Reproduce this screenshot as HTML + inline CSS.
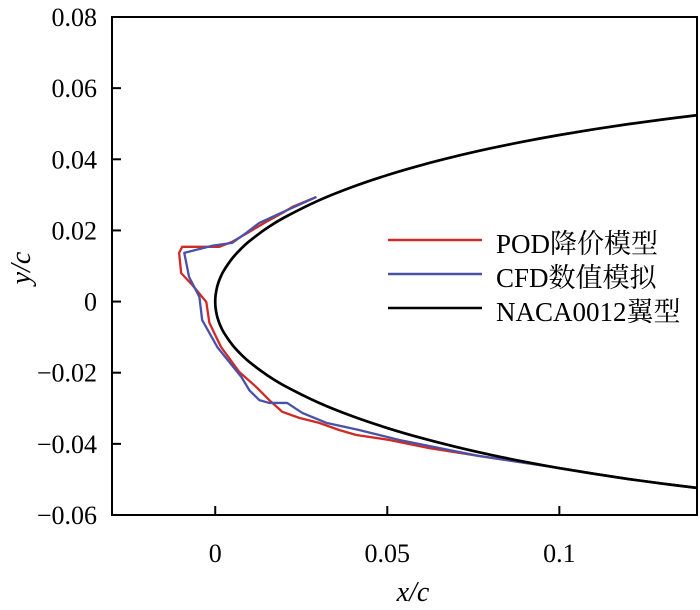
<!DOCTYPE html>
<html><head><meta charset="utf-8"><style>
body{margin:0;background:#fff}
svg{display:block;font-family:"Liberation Serif","Noto Serif CJK SC",serif}
</style></head><body>
<svg id="c" width="700" height="610" viewBox="0 0 700 610"></svg>
<script>
const nacaX=[0,0.0001,0.0005,0.001,0.0015,0.0025,0.005,0.0075,0.01,0.015,0.02,0.03,0.04,0.05,0.06,0.07,0.08,0.09,0.10,0.11,0.12,0.13,0.14];
const nacaY=[0,0.00178,0.00395,0.00556,0.00679,0.00872,0.01221,0.01485,0.01704,0.02064,0.02360,0.02840,0.03228,0.03555,0.03838,0.04086,0.04307,0.04505,0.04683,0.04843,0.04988,0.05119,0.05238];
const podX=[0.0294,0.0224,0.0195,0.0148,0.0099,0.0049,0.0012,-0.0096,-0.0105,-0.0099,-0.0067,-0.0026,-0.0017,0.0017,0.0070,0.0119,0.0157,0.0195,0.0244,0.0302,0.0360,0.0410,0.0506,0.0622,0.0767,0.10,0.12,0.14];
const podY=[0.0294,0.0266,0.0249,0.0224,0.0196,0.0168,0.0154,0.0154,0.0137,0.0080,0.0047,-0.0001,-0.0060,-0.0128,-0.0198,-0.0240,-0.0277,-0.0310,-0.0327,-0.0341,-0.0361,-0.0375,-0.0389,-0.0412,-0.0434,-0.0468,-0.0499,-0.0524];
const cfdX=[0.0294,0.0177,0.0128,0.0090,0.0049,-0.0009,-0.0090,-0.0076,-0.0046,-0.0038,0.0006,0.0076,0.0099,0.0128,0.0157,0.0209,0.0253,0.0323,0.0418,0.0535,0.0767,0.10,0.12,0.14];
const cfdY=[0.0294,0.0243,0.0221,0.0193,0.0165,0.0157,0.0137,0.0069,0.0013,-0.0052,-0.0128,-0.0212,-0.0249,-0.0277,-0.0285,-0.0285,-0.0313,-0.0341,-0.0361,-0.0389,-0.0434,-0.0468,-0.0499,-0.0524];
const xTicks=[0,0.05,0.1];
const xTickLabels=["0","0.05","0.1"];
const yTicks=[0.08,0.06,0.04,0.02,0,-0.02,-0.04,-0.06];
const yTickLabels=["0.08","0.06","0.04","0.02","0","\u22120.02","\u22120.04","\u22120.06"];
const legendLabels=["POD降价模型","CFD数值模拟","NACA0012翼型"];
const legendColors=["#d02a26","#4a52a8","#000"];

const L=112,R=697,T=17,B=515,XMIN=-0.03,XMAX=0.14,YMIN=-0.06,YMAX=0.08;
const sx=v=>L+(v-XMIN)/(XMAX-XMIN)*(R-L);
const sy=v=>B-(v-YMIN)/(YMAX-YMIN)*(B-T);
const svg=document.getElementById('c');
const NS='http://www.w3.org/2000/svg';
function mk(t,a,p){const e=document.createElementNS(NS,t);for(const k in a)e.setAttribute(k,a[k]);(p||svg).appendChild(e);return e;}

const clip=mk('clipPath',{id:'pc'});mk('rect',{x:L,y:T,width:R-L,height:B-T},clip);
const g=mk('g',{'clip-path':'url(#pc)'});
function smooth(P){
  let d='M'+P[0][0]+','+P[0][1];
  for(let i=0;i<P.length-1;i++){
    const p0=P[i-1]||P[i],p1=P[i],p2=P[i+1],p3=P[i+2]||p2;
    d+=' C'+(p1[0]+(p2[0]-p0[0])/6)+','+(p1[1]+(p2[1]-p0[1])/6)+' '+(p2[0]-(p3[0]-p1[0])/6)+','+(p2[1]-(p3[1]-p1[1])/6)+' '+p2[0]+','+p2[1];
  }
  return d;
}
let P=[];
for(let i=nacaX.length-1;i>=0;i--)P.push([sx(nacaX[i]),sy(-nacaY[i])]);
for(let i=1;i<nacaX.length;i++)P.push([sx(nacaX[i]),sy(nacaY[i])]);
function series(xs,ys,col,name){
  const p=xs.map((x,i)=>sx(x)+','+sy(ys[i])).join(' ');
  const e=mk('polyline',{points:p,fill:'none',stroke:col,'stroke-width':2.3,'stroke-linejoin':'round'},g);
  
  
}
series(podX,podY,legendColors[0],'pod-series');
series(cfdX,cfdY,legendColors[1],'cfd-series');
const nl=mk('path',{d:smooth(P),fill:'none',stroke:'#000','stroke-width':2.7},g);



const fr=mk('rect',{x:L,y:T,width:R-L,height:B-T,fill:'none',stroke:'#000','stroke-width':2});


xTicks.forEach((v,i)=>{
  mk('line',{x1:sx(v),x2:sx(v),y1:B,y2:B-9,stroke:'#000','stroke-width':2});
  const t=mk('text',{x:sx(v),y:562,'font-size':26,'text-anchor':'middle'});t.textContent=xTickLabels[i];
  
  
});
yTicks.forEach((v,i)=>{
  mk('line',{x1:L,x2:L+9,y1:sy(v),y2:sy(v),stroke:'#000','stroke-width':2});
  const t=mk('text',{x:97,y:sy(v)+9,'font-size':26,'text-anchor':'end'});t.textContent=yTickLabels[i];
  
  
});
const xt=mk('text',{x:413,y:601,'font-size':28,'font-style':'italic','text-anchor':'middle'});xt.textContent='x/c';


const yt=mk('text',{x:0,y:0,'font-size':28,'font-style':'italic','text-anchor':'middle',transform:'translate(30,268) rotate(-90)'});yt.textContent='y/c';


legendLabels.forEach((lab,i)=>{
  const y=240+i*34;
  const ln=mk('line',{x1:388,x2:482,y1:y,y2:y,stroke:legendColors[i],'stroke-width':2.6});
  
  
  const t=mk('text',{x:496,y:y+13,'font-size':27});t.textContent=lab;
  
  
});
</script>
</body></html>
